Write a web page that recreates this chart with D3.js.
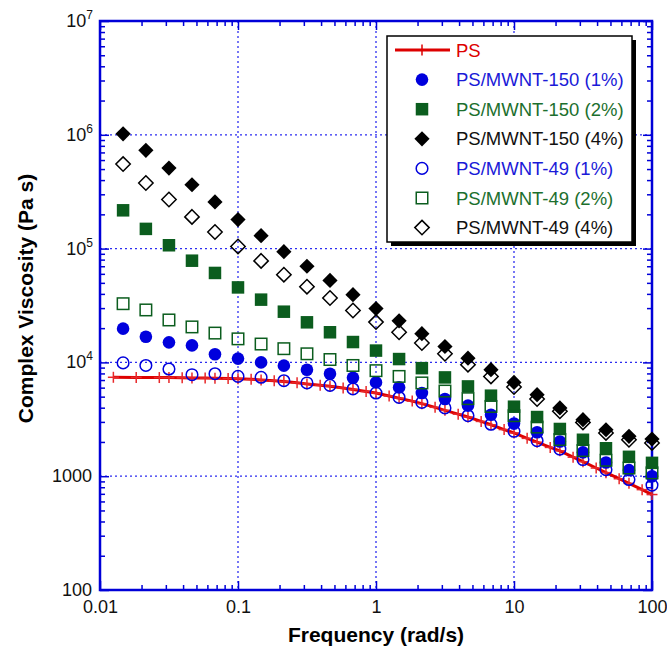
<!DOCTYPE html>
<html>
<head>
<meta charset="utf-8">
<script src="https://cdn.jsdelivr.net/npm/d3@7"></script>
<style>
body { margin: 0; background: #fff; }
text { font-family: "Liberation Sans", Arial, sans-serif; }
</style>
</head>
<body>
<svg id="chart" width="667" height="647"></svg>
<script>
// frequencies (rad/s) of the composite sweeps
var freq = [0.0147, 0.0215, 0.0316, 0.0464, 0.0681, 0.1, 0.147, 0.215, 0.316, 0.464, 0.681, 1,
  1.47, 2.15, 3.16, 4.64, 6.81, 10, 14.7, 21.5, 31.6, 46.4, 68.1, 100];

// neat PS was measured on a denser grid
var psFreq = [0.0125, 0.0183, 0.0269, 0.0316, 0.0394, 0.0464, 0.0578, 0.0681, 0.0848, 0.1, 0.1245, 0.147,
  0.183, 0.215, 0.268, 0.316, 0.394, 0.464, 0.578, 0.681, 0.848, 1, 1.245, 1.47,
  1.83, 2.15, 2.68, 3.16, 3.94, 4.64, 5.78, 6.81, 8.48, 10, 12.45, 14.7,
  18.3, 21.5, 26.8, 31.6, 39.4, 46.4, 57.8, 68.1, 84.8, 100];
var psVisc = [7400, 7380, 7360, 7350, 7330, 7310, 7280, 7260, 7210, 7180, 7100, 7020,
  6890, 6780, 6610, 6470, 6310, 6180, 5960, 5790, 5560, 5380, 5070, 4850,
  4570, 4340, 4030, 3790, 3510, 3310, 3030, 2830, 2570, 2400, 2150, 1990,
  1790, 1670, 1470, 1340, 1180, 1075, 950, 865, 762, 690];

var mwnt150_1 = [19800, 16800, 15000, 14100, 11800, 10800, 10000, 9360, 8630, 7950, 7340, 6670,
  6030, 5380, 4770, 4170, 3470, 2900, 2430, 2020, 1620, 1320, 1130, 1000];
var mwnt150_2 = [217000, 149000, 107000, 78300, 61100, 45600, 35600, 27900, 22500, 18400, 15100, 12700,
  10700, 8900, 7380, 6150, 5100, 4080, 3310, 2600, 2090, 1760, 1480, 1310];
var mwnt150_4 = [1020000, 730000, 510000, 364000, 257000, 180000, 130000, 94000, 70000, 52500, 39400, 29700,
  23200, 17900, 13800, 10900, 8630, 6670, 5200, 3980, 3140, 2560, 2240, 2120];
var mwnt49_1 = [9900, 9400, 8750, 7800, 7950, 7530, 7400, 6900, 6600, 6280, 5840, 5380,
  4920, 4450, 3980, 3400, 2860, 2480, 2050, 1730, 1400, 1140, 935, 835];
var mwnt49_2 = [32800, 28900, 23600, 20500, 18100, 16100, 14500, 13200, 11900, 10600, 9400, 8460,
  7530, 6600, 5600, 4800, 4100, 3400, 2700, 2100, 1680, 1380, 1180, 1070];
var mwnt49_4 = [553000, 377000, 270000, 190000, 140000, 104500, 78000, 59000, 46300, 36800, 28600, 22600,
  18400, 14800, 11900, 9550, 7530, 6080, 4770, 3720, 2970, 2400, 2090, 1960];

var seriesNames = ["PS", "PS/MWNT-150 (1%)", "PS/MWNT-150 (2%)", "PS/MWNT-150 (4%)",
  "PS/MWNT-49 (1%)", "PS/MWNT-49 (2%)", "PS/MWNT-49 (4%)"];
var xTickValues = [0.01, 0.1, 1, 10, 100];
var xTickLabels = ["0.01", "0.1", "1", "10", "100"];
var yTickValues = [100, 1000, 1e4, 1e5, 1e6, 1e7];
var yTickBase = ["100", "1000", "10", "10", "10", "10"];
var yTickExp = ["", "", "4", "5", "6", "7"];

var svg = d3.select("#chart"),
  margin = {top: 21, right: 15, bottom: 57, left: 100},
  width = +svg.attr("width") - margin.left - margin.right,
  height = +svg.attr("height") - margin.top - margin.bottom;

var axisBlue = "#0000d8", gridBlue = "#2d2df0";
var red = "#dd0000", blue = "#0000dd", green = "#0b5d1e", greenText = "#1c6f2e";

var x = d3.scaleLog().domain([0.01, 100]).range([0, width]),
  y = d3.scaleLog().domain([100, 1e7]).range([height, 0]);

var g = svg.append("g")
  .attr("transform", "translate(" + margin.left + "," + margin.top + ")");

// minor tick positions
var minorX = [], minorY = [];
[0.01, 0.1, 1, 10].forEach(function(d) {
  for (var k = 2; k < 10; k++) minorX.push(d * k);
});
[100, 1000, 1e4, 1e5, 1e6].forEach(function(d) {
  for (var k = 2; k < 10; k++) minorY.push(d * k);
});

// dotted grid
g.selectAll(".gx").data([0.1, 1, 10]).enter().append("line")
  .attr("x1", function(d) { return x(d); }).attr("x2", function(d) { return x(d); })
  .attr("y1", 0).attr("y2", height)
  .attr("stroke", gridBlue).attr("stroke-width", 1.3).attr("stroke-dasharray", "2,3");
g.selectAll(".gy").data([1000, 1e4, 1e5, 1e6]).enter().append("line")
  .attr("y1", function(d) { return y(d); }).attr("y2", function(d) { return y(d); })
  .attr("x1", 0).attr("x2", width)
  .attr("stroke", gridBlue).attr("stroke-width", 1.3).attr("stroke-dasharray", "2,3");

function tickAxis(axis, transform) {
  var a = g.append("g").attr("transform", transform).call(axis);
  a.select(".domain").remove();
  a.selectAll("line").attr("stroke", axisBlue).attr("stroke-width", 1.5);
  return a;
}
tickAxis(d3.axisBottom(x).tickValues(minorX).tickSize(-5).tickFormat(""), "translate(0," + height + ")");
tickAxis(d3.axisBottom(x).tickValues(xTickValues).tickSize(-9).tickFormat(""), "translate(0," + height + ")");
tickAxis(d3.axisTop(x).tickValues(minorX).tickSize(-5).tickFormat(""), "translate(0,0)");
tickAxis(d3.axisTop(x).tickValues(xTickValues).tickSize(-9).tickFormat(""), "translate(0,0)");
tickAxis(d3.axisLeft(y).tickValues(minorY).tickSize(-5).tickFormat(""), "translate(0,0)");
tickAxis(d3.axisLeft(y).tickValues(yTickValues).tickSize(-9).tickFormat(""), "translate(0,0)");
tickAxis(d3.axisRight(y).tickValues(minorY).tickSize(-5).tickFormat(""), "translate(" + width + ",0)");
tickAxis(d3.axisRight(y).tickValues(yTickValues).tickSize(-9).tickFormat(""), "translate(" + width + ",0)");

// x labels
var xl = g.append("g")
  .attr("transform", "translate(0," + height + ")")
  .call(d3.axisBottom(x).tickValues(xTickValues).tickSize(0).tickPadding(10)
    .tickFormat(function(d, i) { return xTickLabels[i]; }));
xl.select(".domain").remove();
xl.selectAll("text").attr("font-size", 18).attr("fill", "#111")
  .attr("font-family", "'Liberation Sans', Arial, sans-serif");

// y labels with superscripts
yTickValues.forEach(function(v, i) {
  var t = g.append("text")
    .attr("x", -8).attr("y", y(v) + 6)
    .attr("text-anchor", "end")
    .attr("font-size", 18).attr("fill", "#111");
  if (yTickExp[i]) {
    t.attr("x", -7);
    t.append("tspan").text(yTickBase[i]);
    t.append("tspan").attr("font-size", 12).attr("dy", -8).text(yTickExp[i]);
  } else {
    t.text(yTickBase[i]);
  }
});

// frame
g.append("rect").attr("width", width).attr("height", height)
  .attr("fill", "none").attr("stroke", axisBlue).attr("stroke-width", 2.5);

// axis titles
svg.append("text")
  .attr("x", margin.left + width / 2).attr("y", 642)
  .attr("text-anchor", "middle").attr("font-size", 21).attr("font-weight", "bold")
  .text("Frequency (rad/s)");
svg.append("text")
  .attr("transform", "translate(33," + (margin.top + height / 2 - 7) + ") rotate(-90)")
  .attr("text-anchor", "middle").attr("font-size", 21).attr("font-weight", "bold")
  .text("Complex Viscosity (Pa s)");

// markers
function marker(sel, shape, color, filled) {
  var p;
  if (shape === "circle") {
    p = sel.append("circle").attr("r", filled ? 6.3 : 5.8);
  } else if (shape === "square") {
    var s = filled ? 12.5 : 11.5;
    p = sel.append("rect").attr("x", -s / 2).attr("y", -s / 2).attr("width", s).attr("height", s);
  } else {
    var h = filled ? 7.6 : 7.2;
    p = sel.append("path").attr("d", "M0," + (-h) + "L" + h + ",0L0," + h + "L" + (-h) + ",0Z");
  }
  if (filled) p.attr("fill", color).attr("stroke", "none");
  else p.attr("fill", "none").attr("stroke", color).attr("stroke-width", 1.5);
}

function cross(sel, color) {
  sel.append("line").attr("x1", 0).attr("x2", 0).attr("y1", -5.5).attr("y2", 5.5)
    .attr("stroke", color).attr("stroke-width", 1.5);
  sel.append("line").attr("x1", -5.5).attr("x2", 5.5).attr("y1", 0).attr("y2", 0)
    .attr("stroke", color).attr("stroke-width", 1.5);
}

// PS line
var line = d3.line()
  .x(function(d, i) { return x(psFreq[i]); })
  .y(function(d) { return y(d); });
g.append("path").datum(psVisc)
  .attr("d", line).attr("fill", "none").attr("stroke", red).attr("stroke-width", 3);
g.selectAll(".ps").data(psVisc).enter().append("g")
  .attr("transform", function(d, i) { return "translate(" + x(psFreq[i]) + "," + y(d) + ")"; })
  .each(function() { cross(d3.select(this), "#e8282a"); });

var series = [
  {data: mwnt150_1, shape: "circle", color: blue, filled: true},
  {data: mwnt150_2, shape: "square", color: green, filled: true},
  {data: mwnt150_4, shape: "diamond", color: "#000", filled: true},
  {data: mwnt49_1, shape: "circle", color: blue, filled: false},
  {data: mwnt49_2, shape: "square", color: green, filled: false},
  {data: mwnt49_4, shape: "diamond", color: "#000", filled: false}
];
series.forEach(function(s) {
  g.selectAll(null).data(s.data).enter().append("g")
    .attr("transform", function(d, i) { return "translate(" + x(freq[i]) + "," + y(d) + ")"; })
    .each(function() { marker(d3.select(this), s.shape, s.color, s.filled); });
});

// legend
var lx = 387, ly = 36, lw = 245, lh = 206;
svg.append("rect").attr("x", lx + 4).attr("y", ly + 4).attr("width", lw).attr("height", lh).attr("fill", "#000");
svg.append("rect").attr("x", lx).attr("y", ly).attr("width", lw).attr("height", lh)
  .attr("fill", "#fff").attr("stroke", "#000").attr("stroke-width", 1.5);

var textColors = [red, "#1a1ad8", greenText, "#111", "#1a1ad8", greenText, "#111"];
seriesNames.forEach(function(name, i) {
  var cy = 50 + i * 29.6;
  var m = svg.append("g").attr("transform", "translate(422," + cy + ")");
  if (i === 0) {
    m.append("line").attr("x1", -27).attr("x2", 28).attr("y1", 0).attr("y2", 0)
      .attr("stroke", red).attr("stroke-width", 3);
    cross(m, red);
  } else {
    var s = series[i - 1];
    marker(m, s.shape, s.color, s.filled);
  }
  svg.append("text").attr("x", 456).attr("y", cy).attr("dy", "0.36em")
    .attr("font-size", 18.5).attr("fill", textColors[i]).text(name);
});
</script>
</body>
</html>
